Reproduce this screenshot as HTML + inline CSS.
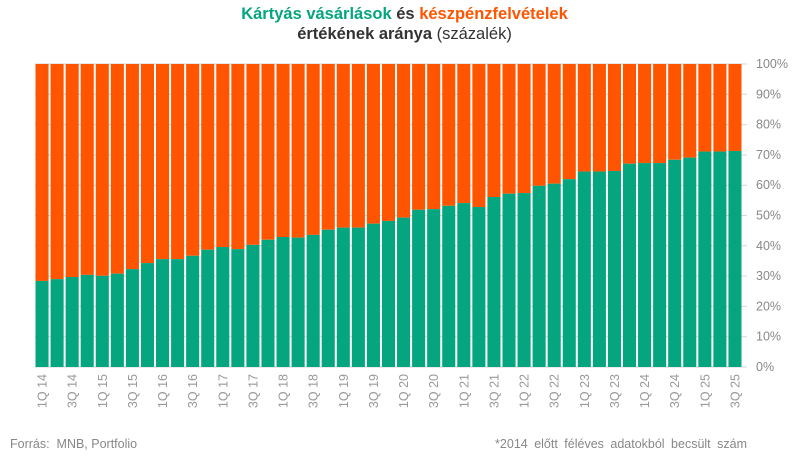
<!DOCTYPE html>
<html><head><meta charset="utf-8"><style>
body{margin:0;background:#fff;font-family:"Liberation Sans",sans-serif;}
#wrap{position:relative;width:809px;height:465px;overflow:hidden;}
.title{position:absolute;left:0;width:809px;text-align:center;font-size:16.5px;font-weight:bold;color:#333;}
</style></head><body>
<div id="wrap">
<div class="title" style="top:5px"><span style="color:#05a57f">Kártyás vásárlások</span> és <span style="color:#ff5500">készpénzfelvételek</span></div>
<div class="title" style="top:25px">értékének aránya <span style="font-weight:normal">(százalék)</span></div>
<svg id="chart" width="809" height="465" style="position:absolute;left:0;top:0"></svg>
<div style="position:absolute;left:10px;top:437px;font-size:12.5px;color:#888">Forrás:&nbsp; MNB, Portfolio</div>
<div style="position:absolute;right:62px;top:437px;font-size:12.5px;color:#888;word-spacing:3px">*2014 előtt féléves adatokból becsült szám</div>
</div>
<script>
const categories=[];
for(let y=14;y<=25;y++)for(let q=1;q<=4;q++){if(y===25&&q===4)break;categories.push(q+"Q "+y);}
const cardShare=[28.4,29.0,29.7,30.4,30.1,30.8,32.3,34.3,35.6,35.6,36.7,38.7,39.6,38.9,40.3,42.0,42.9,42.7,43.6,45.3,46.0,46.0,47.3,48.2,49.3,51.9,52.1,53.2,54.1,52.8,56.1,57.2,57.4,59.8,60.5,62.0,64.5,64.5,64.7,67.1,67.3,67.3,68.4,69.1,71.1,71.1,71.3];
const yTicks=[0,10,20,30,40,50,60,70,80,90,100];
const NS="http://www.w3.org/2000/svg";
const svg=document.getElementById("chart");
const x0=35,x1=743,y0=367,yTop=64;
const band=(x1-x0)/categories.length;
const X=i=>x0+i*band;
const Y=v=>y0-(y0-yTop)*v/100;
function mk(t,a){const e=document.createElementNS(NS,t);for(const k in a)e.setAttribute(k,a[k]);svg.appendChild(e);return e;}
yTicks.forEach(t=>{
 const l=mk("line",{x1:x0,x2:x1+4,y1:Y(t),y2:Y(t),stroke:"#d6d6d6","stroke-width":1});
 
 
 const tx=mk("text",{x:756,y:Y(t)+4,"font-size":12.5,fill:"#888","font-family":"Liberation Sans, sans-serif"});
 tx.textContent=t+"%";
 
 
});
categories.forEach((c,i)=>{
 const v=cardShare[i];
 const bx=X(i)+0.5,bw=band-2;
 const o=mk("rect",{x:bx,y:Y(100),width:bw,height:Y(v)-Y(100),fill:"#ff5500"});
 
 
 const g=mk("rect",{x:bx,y:Y(v),width:bw,height:y0-Y(v),fill:"#05a57f"});
 
 
 if(i%2===0){
  const cx=X(i)+band/2+4;
  const t=mk("text",{x:cx,y:374,"font-size":12.5,fill:"#999","text-anchor":"end","font-family":"Liberation Sans, sans-serif",transform:`rotate(-90 ${cx} 374)`});
  t.textContent=c;
  
  
 }
});
</script>
</body></html>
